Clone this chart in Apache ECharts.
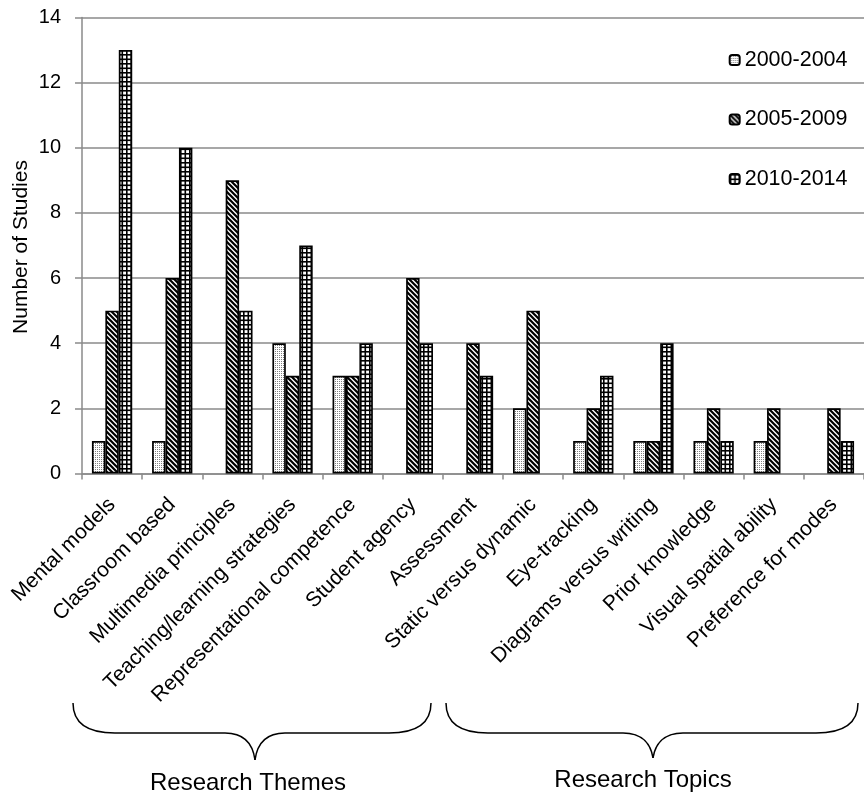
<!DOCTYPE html>
<html><head><meta charset="utf-8">
<script src="https://cdn.jsdelivr.net/npm/echarts@6/dist/echarts.min.js"></script>
<style>html,body{margin:0;padding:0;background:#fff}#c{width:864px;height:796px}</style>
</head><body><div id="c"></div>
<script>
const categories = ['Mental models','Classroom based','Multimedia principles','Teaching/learning strategies','Representational competence','Student agency','Assessment','Static versus dynamic','Eye-tracking','Diagrams versus writing','Prior knowledge','Visual spatial ability','Preference for modes'];
const seriesNames = ['2000-2004','2005-2009','2010-2014'];
const values2000 = [1,1,0,4,3,0,0,2,1,1,1,1,0];
const values2005 = [5,6,9,3,3,6,4,5,2,1,2,2,2];
const values2010 = [13,10,5,7,4,4,3,0,3,4,1,0,1];
const yMin = 0, yMax = 14, yStep = 2;
const yTitle = 'Number of Studies';
const groupLabels = ['Research Themes','Research Topics'];

function tile(w, h, draw){
  const c = document.createElement('canvas'); c.width = w; c.height = h;
  const g = c.getContext('2d'); g.fillStyle = '#fff'; g.fillRect(0,0,w,h); draw(g, w, h); return c;
}
const dotPat = tile(2,2,(g)=>{ g.fillStyle='#808080'; g.fillRect(1,1,1,1); });
const stripePat = tile(5,5,(g,w)=>{ g.strokeStyle='#000'; g.lineWidth=2.2; g.beginPath();
  for (const o of [-w,0,w]) { g.moveTo(o-1,-1); g.lineTo(o+w+1,w+1); } g.stroke(); });
const gridPat = tile(9,9,(g)=>{ g.fillStyle='#000';
  g.fillRect(0,0,9,1.6); g.fillRect(0,4.5,9,1.6); g.fillRect(0,0,1.6,9); g.fillRect(4.5,0,1.6,9); });
const patterns = [dotPat, stripePat, gridPat];
const allValues = [values2000, values2005, values2010];

function brace(xl, xr, xt, yTop, yMid, yTip){
  const st = {stroke: '#000', lineWidth: 1.5, fill: null};
  const bz = (x1,y1,c1x,c1y,c2x,c2y,x2,y2) => ({type:'bezierCurve', shape:{x1,y1,cpx1:c1x,cpy1:c1y,cpx2:c2x,cpy2:c2y,x2,y2}, style: st});
  const ln = (x1,y1,x2,y2) => ({type:'line', shape:{x1,y1,x2,y2}, style: st});
  return [
    bz(xl,yTop, xl,yTop+22, xl+17,yMid, xl+42,yMid),
    ln(xl+42,yMid, xt-30,yMid),
    bz(xt-30,yMid, xt-10,yMid, xt-2,yMid+12, xt,yTip),
    bz(xt,yTip, xt+2,yMid+12, xt+10,yMid, xt+30,yMid),
    ln(xt+30,yMid, xr-42,yMid),
    bz(xr-42,yMid, xr-17,yMid, xr,yTop+22, xr,yTop)
  ];
}

const font = '"Liberation Sans", Arial, sans-serif';
const chart = echarts.init(document.getElementById('c'), null, {renderer:'canvas'});
chart.setOption({
  animation: false,
  backgroundColor: '#fff',
  textStyle: {fontFamily: font, color: '#000'},
  grid: {left: 82, top: 17.5, width: 787, bottom: 322.5, containLabel: false},
  legend: {
    orient: 'vertical', right: 11.5, top: 44, itemWidth: 10, itemHeight: 10, itemGap: 37.5,
    textStyle: {fontFamily: font, fontSize: 21.5, color: '#000', lineHeight: 22},
    data: seriesNames
  },
  xAxis: {
    type: 'category', data: categories,
    axisLine: {lineStyle: {color: '#8a8a8a', width: 1.5}},
    axisTick: {show: true, length: 6, lineStyle: {color: '#8a8a8a', width: 1.5}},
    axisLabel: {rotate: 45, margin: 28, fontSize: 21, fontFamily: font, color: '#000', interval: 0}
  },
  yAxis: {
    type: 'value', min: yMin, max: yMax, interval: yStep,
    axisLine: {show: true, lineStyle: {color: '#8a8a8a', width: 1.5}},
    axisTick: {show: true, length: 7, lineStyle: {color: '#8a8a8a', width: 1.5}},
    axisLabel: {margin: 21, fontSize: 20, fontFamily: font, color: '#000'},
    splitLine: {lineStyle: {color: '#8a8a8a', width: 1.5}}
  },
  series: seriesNames.map((n, i) => ({
    name: n, type: 'bar', barGap: '0%', barCategoryGap: '33%',
    data: allValues[i].map(v => v === 0 ? '-' : v),
    itemStyle: {color: {image: patterns[i], repeat: 'repeat'}, borderColor: '#000', borderWidth: 1.7}
  })),
  graphic: [
    ...brace(73, 431, 255, 703, 733, 760),
    ...brace(446, 858, 653, 703, 733, 758),
    {type: 'text', x: 21, y: 247, rotation: Math.PI / 2, style: {text: yTitle, font: '21px "Liberation Sans", Arial, sans-serif', fill: '#000', textAlign: 'center', textVerticalAlign: 'middle'}},
    {type: 'text', x: 248, y: 783, style: {text: groupLabels[0], font: '24px "Liberation Sans", Arial, sans-serif', fill: '#000', textAlign: 'center', textVerticalAlign: 'middle'}},
    {type: 'text', x: 643, y: 780, style: {text: groupLabels[1], font: '24px "Liberation Sans", Arial, sans-serif', fill: '#000', textAlign: 'center', textVerticalAlign: 'middle'}}
  ]
});
</script></body></html>
